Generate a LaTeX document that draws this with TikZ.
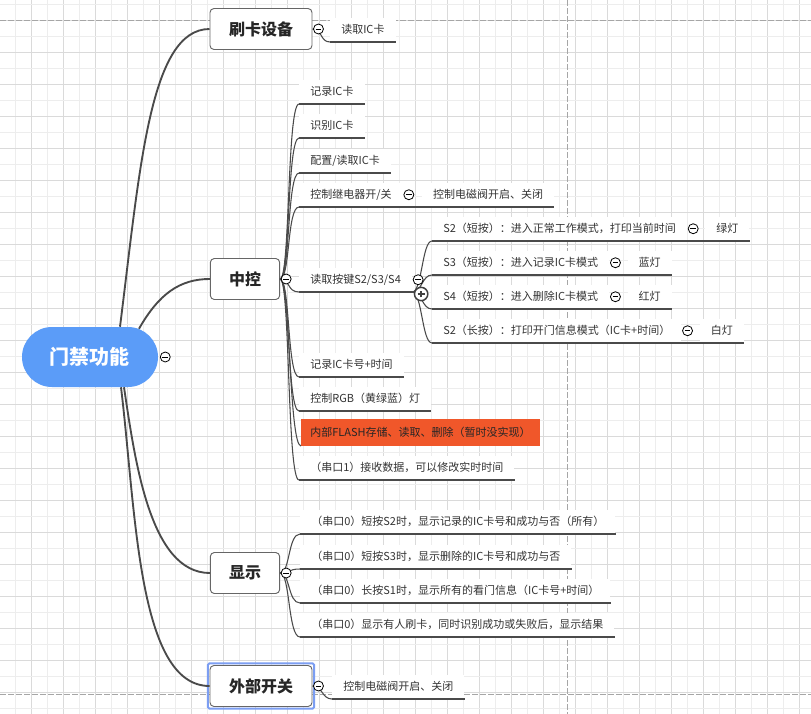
\documentclass[tikz,border=0pt]{standalone}
\usepackage{fontspec}
\setmainfont{Noto Sans CJK SC}
\usetikzlibrary{positioning, calc, fit}

\definecolor{rootblue}{HTML}{5B9CF8}
\definecolor{flashred}{HTML}{F0572A}
\definecolor{gridlt}{HTML}{EDEDED}
\definecolor{griddk}{HTML}{DADADA}
\definecolor{linegray}{HTML}{4A4A4A}
\definecolor{txtgray}{HTML}{333333}
\definecolor{selblue}{HTML}{7C9EF2}

\begin{document}
\begin{tikzpicture}[x=0.75pt, y=-0.75pt,
    rootnode/.style={rectangle, rounded corners=22.5pt, fill=rootblue, text=white,
        minimum width=102pt, minimum height=45pt, font=\fontsize{15}{18}\selectfont\bfseries},
    topic/.style={rectangle, rounded corners=3pt, draw=black!60, fill=white, line width=0.7pt,
        minimum height=30.75pt, font=\fontsize{12}{14}\selectfont\bfseries, text=black!85},
    leaf/.style={rectangle, fill=white, anchor=south west, inner xsep=8.25pt, inner ysep=0pt,
        minimum height=18pt, font=\fontsize{8.25}{10}\selectfont, text=txtgray},
    mainline/.style={draw=linegray, line width=1.4pt},
    subline/.style={draw=linegray, line width=0.8pt},
    fold/.style={circle, draw=black, fill=white, line width=0.6pt, minimum size=7.5pt, inner sep=0pt,
        path picture={\draw[line width=0.6pt] ([xshift=-2.2pt]path picture bounding box.center)
            -- ([xshift=2.2pt]path picture bounding box.center);}},
    unfold/.style={circle, draw=black!75, fill=white, line width=1.1pt, minimum size=10pt, inner sep=0pt,
        path picture={\draw[line width=1.1pt] ([xshift=-2.6pt]path picture bounding box.center)
            -- ([xshift=2.6pt]path picture bounding box.center)
            ([yshift=-2.6pt]path picture bounding box.center)
            -- ([yshift=2.6pt]path picture bounding box.center);}},
    gridline/.style={line width=0.6pt},
    pagebreak/.style={draw=black!35, line width=0.7pt, dash pattern=on 4.5pt off 1.5pt}
]
    \useasboundingbox[fill=white] (0,0) rectangle (811,714);

    % Background grid
    \foreach \i in {0,...,24} {
        \draw[gridline, gridlt] ({15.5+32*\i},0) -- ({15.5+32*\i},714);
        \draw[gridline, griddk] ({31.5+32*\i},0) -- ({31.5+32*\i},714);
    }
    \foreach \j in {0,...,22} {
        \draw[gridline, gridlt] (0,{4+32*\j}) -- (811,{4+32*\j});
        \draw[gridline, griddk] (0,{20+32*\j}) -- (811,{20+32*\j});
    }
    \draw[pagebreak] (0,20) -- (811,20);
    \draw[pagebreak] (0,694) -- (811,694);
    \draw[pagebreak] (567,0) -- (567,714);

    % Root and main topics
    \node[rootnode] (root) at (90,357) {门禁功能};
    \node[topic, minimum width=76.5pt] (card) at (261,29) {刷卡设备};
    \node[topic, minimum width=52pt] (ctrl) at (245,279) {中控};
    \node[topic, minimum width=52pt] (disp) at (245,573) {显示};
    \node[topic, minimum width=76.5pt] (ext) at (261,686) {外部开关};
    \node[draw=selblue, line width=1.5pt, rounded corners=1pt, inner sep=1.2pt, fit=(ext)] (extsel) {};

    % Card reader
    \node[leaf] (readcard) at (330,42) {读取IC卡};

    % Controller
    \node[leaf] (rec) at (299,104) {记录IC卡};
    \node[leaf] (ident) at (299,138) {识别IC卡};
    \node[leaf] (cfg) at (299,173) {配置/读取IC卡};
    \node[leaf] (relay) at (299,207) {控制继电器开/关};
    \node[leaf] (valve) at ($(relay.south east)+(19,0)$) {控制电磁阀开启、关闭};
    \node[leaf] (keys) at (299,292) {读取按键S2/S3/S4};
    \node[leaf] (ks2) at (432,241) {S2（短按）：进入正常工作模式，打印当前时间};
    \node[leaf] (lampg) at ($(ks2.south east)+(18,0)$) {绿灯};
    \node[leaf] (ks3) at (432,275) {S3（短按）：进入记录IC卡模式};
    \node[leaf] (lampb) at ($(ks3.south east)+(18,0)$) {蓝灯};
    \node[leaf] (ks4) at (432,309) {S4（短按）：进入删除IC卡模式};
    \node[leaf] (lampr) at ($(ks4.south east)+(18,0)$) {红灯};
    \node[leaf] (ks2l) at (432,343) {S2（长按）：打印开门信息模式（IC卡+时间）};
    \node[leaf] (lampw) at ($(ks2l.south east)+(18,0)$) {白灯};
    \node[leaf] (reclog) at (299,377) {记录IC卡号+时间};
    \node[leaf] (ledrgb) at (299,411) {控制RGB（黄绿蓝）灯};
    \node[leaf, fill=flashred, text=black!85, minimum height=20.25pt, inner xsep=6.75pt] (flash) at (301,446) {内部FLASH存储、读取、删除（暂时没实现）};
    \node[leaf] (uart1) at (299,480) {（串口1）接收数据，可以修改实时时间};

    % Display
    \node[leaf] (d1) at (300,534) {（串口0）短按S2时，显示记录的IC卡号和成功与否（所有）};
    \node[leaf] (d2) at (300,569) {（串口0）短按S3时，显示删除的IC卡号和成功与否};
    \node[leaf] (d3) at (300,603) {（串口0）长按S1时，显示所有的看门信息（IC卡号+时间）};
    \node[leaf] (d4) at (300,637) {（串口0）显示有人刷卡，同时识别成功或失败后，显示结果};

    % External switch
    \node[leaf] (extv) at (332,699) {控制电磁阀开启、关闭};

    % Underlines
    \foreach \n in {readcard, rec, ident, cfg, relay, valve, keys, ks2, lampg, ks3, lampb,
                    ks4, lampr, ks2l, lampw, reclog, ledrgb, uart1, d1, d2, d3, d4, extv}
        \draw[subline] (\n.south west) -- (\n.south east);

    % Main branches
    \draw[mainline] ($(root.north)+(30,0)$) .. controls +(20,-158) and +(-60,0) .. (card.west);
    \draw[mainline] ($(root.north)+(49,2)$) .. controls +(20,-35) and +(-30,0) .. (ctrl.west);
    \draw[mainline] ($(root.south)+(34,0)$) .. controls +(11,73) and +(-60,0) .. (disp.west);
    \draw[mainline] ($(root.south)+(31,0)$) .. controls +(15,123) and +(-72,0) .. (ext.west);

    % Sub branches
    \draw[subline] (card.east) .. controls +(10,0) and +(-10,0) .. (readcard.south west);
    \foreach \n in {rec, ident, cfg, relay, keys, reclog, ledrgb, flash, uart1}
        \draw[subline] (ctrl.east) .. controls +(10,0) and +(-12,0) .. (\n.south west);
    \draw[subline] (relay.south east) -- (valve.south west);
    \foreach \n in {ks2, ks3, ks4, ks2l}
        \draw[subline] (keys.south east) .. controls +(10,0) and +(-10,0) .. (\n.south west);
    \draw[subline] (ks2.south east) -- (lampg.south west);
    \draw[subline] (ks3.south east) -- (lampb.south west);
    \draw[subline] (ks4.south east) -- (lampr.south west);
    \draw[subline] (ks2l.south east) -- (lampw.south west);
    \foreach \n in {d1, d2, d3, d4}
        \draw[subline] (disp.east) .. controls +(10,0) and +(-12,0) .. (\n.south west);
    \draw[subline] (ext.east) .. controls +(10,0) and +(-10,0) .. (extv.south west);

    % Fold buttons
    \node[fold] (root-fold) at ($(root.east)+(7,0)$) {};
    \foreach \n in {card, ctrl, disp, ext, relay, keys, ks2, ks3, ks4, ks2l}
        \node[fold] (\n-fold) at ($(\n.east)+(6,0)$) {};
    \node[unfold] (keys-open) at ($(keys.south east)+(9,2)$) {};
\end{tikzpicture}
\end{document}
